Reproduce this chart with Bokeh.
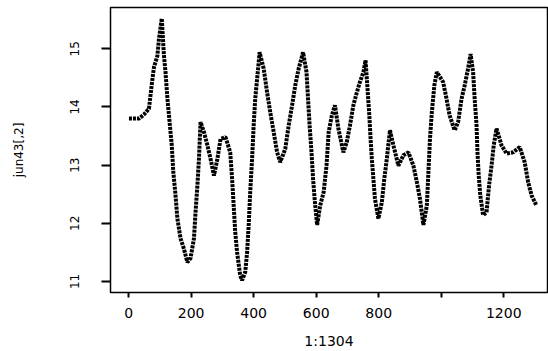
from bokeh.plotting import figure
from bokeh.models import FixedTicker, ColumnDataSource
from bokeh.embed import file_html
from bokeh.resources import INLINE

# Observation number and value of jun43[,2] at the turning points of the series
obs_index = [1, 33, 49, 65, 70, 75, 81, 92, 97, 106, 113, 118, 124, 131, 138, 143,
             150, 156, 166, 177, 188, 198, 209, 214, 220, 225, 230, 241, 252, 262,
             273, 284, 294, 310, 325, 331, 336, 341, 347, 357, 363, 373, 379, 384,
             389, 395, 400, 405, 411, 419, 432, 443, 453, 464, 475, 485, 501, 512,
             523, 533, 544, 558, 569, 574, 579, 585, 590, 595, 603, 613, 624, 633,
             640, 650, 660, 671, 687, 698, 708, 719, 730, 740, 751, 758, 765, 770,
             774, 778, 783, 788, 799, 810, 818, 826, 836, 847, 863, 879, 895, 911,
             922, 932, 943, 954, 959, 964, 970, 978, 986, 1006, 1017, 1027, 1043,
             1054, 1065, 1075, 1086, 1094, 1102, 1107, 1113, 1116, 1120, 1125, 1134,
             1145, 1153, 1161, 1168, 1177, 1193, 1209, 1230, 1251, 1267, 1278, 1289,
             1304]
obs_value = [13.80, 13.80, 13.87, 13.97, 14.20, 14.43, 14.68, 14.88, 15.17, 15.52,
             14.88, 14.60, 14.15, 13.74, 13.34, 12.88, 12.48, 12.08, 11.74, 11.56,
             11.33, 11.40, 11.74, 12.19, 12.65, 13.11, 13.74, 13.57, 13.34, 13.11,
             12.82, 13.11, 13.45, 13.48, 13.22, 12.77, 12.31, 11.85, 11.50, 11.10,
             11.02, 11.16, 11.50, 11.96, 12.54, 13.11, 13.68, 14.14, 14.48, 14.94,
             14.66, 14.25, 13.91, 13.57, 13.22, 13.05, 13.28, 13.68, 14.03, 14.37,
             14.66, 14.94, 14.60, 14.14, 13.68, 13.22, 12.77, 12.42, 11.97, 12.31,
             12.54, 12.99, 13.57, 13.85, 14.03, 13.63, 13.22, 13.40, 13.68, 14.03,
             14.25, 14.43, 14.60, 14.80, 14.25, 13.85, 13.45, 13.11, 12.77, 12.42,
             12.08, 12.36, 12.77, 13.11, 13.60, 13.34, 12.99, 13.17, 13.22, 12.99,
             12.71, 12.42, 11.97, 12.31, 12.88, 13.45, 13.91, 14.37, 14.60, 14.43,
             14.14, 13.85, 13.60, 13.74, 14.14, 14.37, 14.66, 14.91, 14.60, 14.14,
             13.68, 13.22, 12.82, 12.48, 12.14, 12.19, 12.65, 12.99, 13.34, 13.63,
             13.34, 13.20, 13.22, 13.31, 13.05, 12.71, 12.48, 12.31]

x_ticks = [0, 200, 400, 600, 800, 1000, 1200]
x_tick_labels = {1000: ""}
y_ticks = [11, 12, 13, 14, 15]

FONT = "DejaVu Sans"

src = ColumnDataSource(dict(i=obs_index, v=obs_value))

p = figure(width=548, height=351, output_backend="svg", toolbar_location=None,
           x_range=(-58, 1340), y_range=(10.81, 15.71),
           min_border_left=110, min_border_right=1, min_border_top=7,
           min_border_bottom=59)

p.line("i", "v", source=src, line_color="black", line_width=4,
       line_dash="3 1")

p.grid.visible = False
p.outline_line_color = "black"
p.outline_line_width = 1.5
p.background_fill_color = "white"
p.border_fill_color = "white"

for ax in (p.xaxis, p.yaxis):
    ax.axis_line_color = None
    ax.minor_tick_line_color = None
    ax.major_tick_line_color = "black"
    ax.major_tick_line_width = 2
    ax.major_tick_in = 0
    ax.major_label_text_font = FONT
    ax.axis_label_text_font = FONT
    ax.axis_label_text_font_style = "normal"
    ax.major_label_text_color = "black"
    ax.axis_label_text_color = "black"

p.xaxis.ticker = FixedTicker(ticks=x_ticks)
p.xaxis.major_label_overrides = x_tick_labels
p.xaxis.major_tick_out = 5
p.xaxis.major_label_standoff = 10
p.xaxis.major_label_text_font_size = "14px"
p.xaxis.axis_label = "1:1304"
p.xaxis.axis_label_text_font_size = "14px"
p.xaxis.axis_label_standoff = 12

p.yaxis.ticker = FixedTicker(ticks=y_ticks)
p.yaxis.major_tick_out = 9
p.yaxis.major_label_orientation = "vertical"
p.yaxis.major_label_standoff = 22
p.yaxis.major_label_text_font_size = "12px"
p.yaxis.axis_label = "jun43[,2]"
p.yaxis.axis_label_text_font_size = "12px"
p.yaxis.axis_label_standoff = 42

open("out.html", "w").write(file_html(p, INLINE))
